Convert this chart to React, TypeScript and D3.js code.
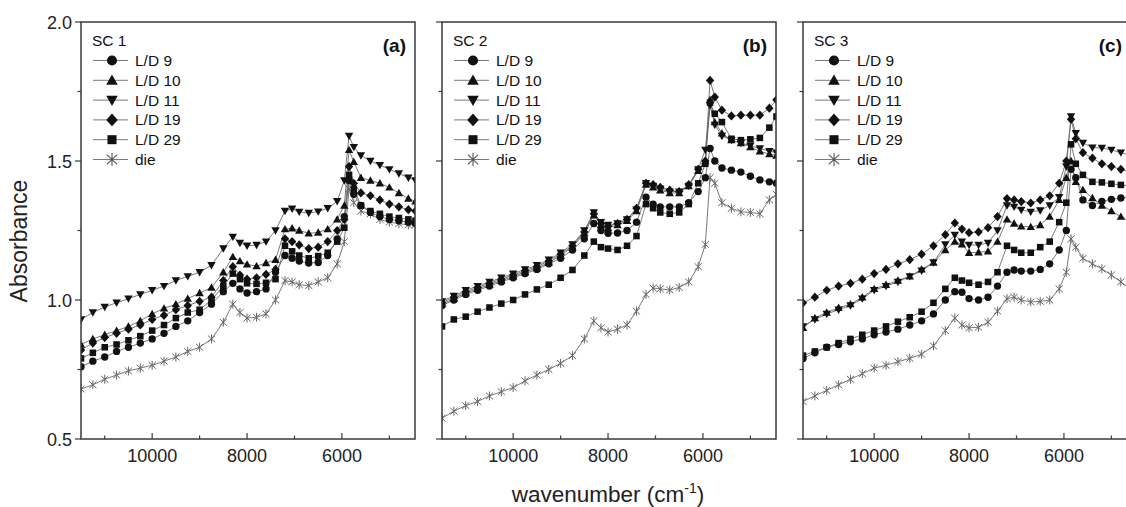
import React from "react";
import * as d3 from "d3";

// Wavenumber grid (cm^-1) shared by all spectra
const wavenumbers = [
  11500, 11250, 11000, 10750, 10500, 10250, 10000, 9750, 9500, 9250, 9000, 8750,
  8500, 8300, 8150, 8000, 7800, 7600, 7400, 7200, 7050, 6900, 6700, 6500, 6300,
  6100, 5950, 5850, 5750, 5600, 5400, 5200, 5000, 4800, 4600, 4450,
];

// SC 1
const sc1LD9 = [0.76, 0.78, 0.795, 0.815, 0.83, 0.845, 0.86, 0.88, 0.905, 0.925, 0.955, 0.985, 1.03, 1.06, 1.04, 1.025, 1.03, 1.04, 1.1, 1.16, 1.15, 1.14, 1.133, 1.135, 1.16, 1.22, 1.3, 1.43, 1.38, 1.34, 1.315, 1.3, 1.29, 1.285, 1.28, 1.275];
const sc1LD10 = [0.84, 0.86, 0.875, 0.89, 0.905, 0.925, 0.95, 0.97, 0.985, 1.005, 1.025, 1.045, 1.1, 1.155, 1.14, 1.128, 1.122, 1.133, 1.145, 1.255, 1.258, 1.25, 1.24, 1.243, 1.255, 1.29, 1.34, 1.54, 1.497, 1.44, 1.43, 1.42, 1.405, 1.385, 1.365, 1.355];
const sc1LD11 = [0.93, 0.955, 0.975, 0.99, 1.005, 1.02, 1.035, 1.05, 1.07, 1.085, 1.1, 1.125, 1.185, 1.227, 1.205, 1.195, 1.198, 1.21, 1.25, 1.32, 1.328, 1.317, 1.313, 1.318, 1.33, 1.355, 1.43, 1.59, 1.55, 1.52, 1.5, 1.485, 1.47, 1.455, 1.44, 1.43];
const sc1LD19 = [0.82, 0.845, 0.865, 0.88, 0.895, 0.91, 0.93, 0.945, 0.965, 0.98, 0.995, 1.01, 1.07, 1.12, 1.09, 1.075, 1.08, 1.092, 1.11, 1.22, 1.21, 1.198, 1.185, 1.19, 1.21, 1.25, 1.29, 1.48, 1.42, 1.385, 1.375, 1.36, 1.345, 1.335, 1.325, 1.32];
const sc1LD29 = [0.79, 0.81, 0.83, 0.84, 0.855, 0.87, 0.89, 0.91, 0.935, 0.955, 0.965, 1.0, 1.05, 1.095, 1.075, 1.06, 1.058, 1.062, 1.075, 1.195, 1.175, 1.16, 1.15, 1.158, 1.17, 1.21, 1.26, 1.45, 1.4, 1.34, 1.32, 1.31, 1.3, 1.295, 1.29, 1.285];
const sc1Die = [0.68, 0.695, 0.715, 0.73, 0.745, 0.755, 0.765, 0.78, 0.795, 0.815, 0.83, 0.86, 0.92, 0.985, 0.955, 0.935, 0.938, 0.95, 1.0, 1.07, 1.065, 1.055, 1.052, 1.065, 1.08, 1.13, 1.21, 1.4, 1.35, 1.32, 1.31, 1.29, 1.28, 1.275, 1.27, 1.27];

// SC 2
const sc2LD9 = [0.98, 1.0, 1.02, 1.035, 1.05, 1.065, 1.08, 1.095, 1.11, 1.13, 1.15, 1.18, 1.22, 1.275, 1.25, 1.24, 1.241, 1.25, 1.28, 1.37, 1.345, 1.335, 1.335, 1.335, 1.35, 1.39, 1.44, 1.545, 1.5, 1.475, 1.467, 1.46, 1.445, 1.432, 1.425, 1.42];
const sc2LD10 = [0.985, 1.005, 1.025, 1.04, 1.055, 1.07, 1.085, 1.1, 1.115, 1.135, 1.16, 1.19, 1.24, 1.305, 1.27, 1.26, 1.27, 1.285, 1.32, 1.415, 1.405, 1.395, 1.385, 1.385, 1.41, 1.465, 1.5, 1.72, 1.64, 1.6, 1.575, 1.565, 1.55, 1.535, 1.525, 1.52];
const sc2LD11 = [0.995, 1.015, 1.035, 1.05, 1.065, 1.08, 1.095, 1.11, 1.125, 1.145, 1.17, 1.2, 1.25, 1.315, 1.28, 1.27, 1.275, 1.29, 1.325, 1.42, 1.41, 1.4, 1.39, 1.39, 1.41, 1.47, 1.54, 1.7, 1.63, 1.59, 1.575, 1.565, 1.555, 1.545, 1.535, 1.53];
const sc2LD19 = [0.99, 1.01, 1.03, 1.045, 1.06, 1.075, 1.09, 1.105, 1.12, 1.14, 1.165, 1.195, 1.245, 1.31, 1.275, 1.265, 1.275, 1.29, 1.33, 1.42, 1.415, 1.405, 1.395, 1.39, 1.415, 1.47, 1.5, 1.79, 1.73, 1.683, 1.662, 1.665, 1.665, 1.665, 1.69, 1.72];
const sc2LD29 = [0.905, 0.93, 0.94, 0.958, 0.973, 0.987, 1.0, 1.02, 1.038, 1.055, 1.08, 1.108, 1.16, 1.21, 1.19, 1.185, 1.18, 1.195, 1.23, 1.345, 1.33, 1.315, 1.31, 1.315, 1.345, 1.42, 1.49, 1.71, 1.67, 1.64, 1.58, 1.575, 1.578, 1.583, 1.62, 1.66];
const sc2Die = [0.575, 0.6, 0.62, 0.635, 0.655, 0.67, 0.685, 0.709, 0.73, 0.75, 0.772, 0.8, 0.86, 0.925, 0.9, 0.885, 0.895, 0.91, 0.96, 1.02, 1.043, 1.04, 1.036, 1.045, 1.065, 1.12, 1.2, 1.44, 1.42, 1.35, 1.33, 1.317, 1.315, 1.31, 1.36, 1.38];

// SC 3
const sc3LD9 = [0.79, 0.81, 0.83, 0.84, 0.85, 0.86, 0.875, 0.885, 0.895, 0.91, 0.925, 0.95, 1.0, 1.03, 1.028, 1.005, 1.0, 1.01, 1.05, 1.1, 1.108, 1.104, 1.104, 1.11, 1.13, 1.18, 1.25, 1.47, 1.44, 1.36, 1.34, 1.355, 1.362, 1.367, 1.37, 1.37];
const sc3LD10 = [0.9, 0.935, 0.955, 0.972, 0.985, 1.01, 1.04, 1.055, 1.07, 1.085, 1.11, 1.135, 1.18, 1.21, 1.2, 1.17, 1.172, 1.175, 1.21, 1.29, 1.275, 1.265, 1.263, 1.27, 1.3, 1.36, 1.44, 1.5, 1.425, 1.396, 1.367, 1.34, 1.32, 1.3, 1.28, 1.27];
const sc3LD11 = [0.905, 0.93, 0.95, 0.965, 0.98, 1.005, 1.035, 1.05, 1.065, 1.085, 1.105, 1.135, 1.2, 1.234, 1.21, 1.198, 1.198, 1.205, 1.25, 1.34, 1.335, 1.324, 1.317, 1.322, 1.34, 1.37, 1.48, 1.66, 1.6, 1.565, 1.548, 1.547, 1.54, 1.53, 1.52, 1.51];
const sc3LD19 = [0.99, 1.01, 1.035, 1.05, 1.06, 1.075, 1.095, 1.11, 1.13, 1.145, 1.165, 1.195, 1.235, 1.277, 1.255, 1.242, 1.245, 1.26, 1.3, 1.365, 1.36, 1.354, 1.349, 1.36, 1.375, 1.42, 1.5, 1.65, 1.58, 1.53, 1.51, 1.49, 1.48, 1.47, 1.46, 1.45];
const sc3LD29 = [0.8, 0.815, 0.83, 0.845, 0.86, 0.875, 0.89, 0.905, 0.922, 0.938, 0.958, 0.99, 1.04, 1.08, 1.07, 1.062, 1.055, 1.065, 1.1, 1.195, 1.18, 1.17, 1.17, 1.19, 1.21, 1.28, 1.35, 1.56, 1.49, 1.45, 1.425, 1.423, 1.418, 1.414, 1.41, 1.41];
const sc3Die = [0.635, 0.655, 0.675, 0.695, 0.715, 0.735, 0.755, 0.765, 0.778, 0.79, 0.805, 0.835, 0.89, 0.935, 0.91, 0.9, 0.902, 0.92, 0.96, 1.005, 1.01, 1.0, 0.993, 0.995, 1.0, 1.04, 1.1, 1.22, 1.19, 1.15, 1.13, 1.112, 1.09, 1.065, 1.04, 1.02];

const seriesNames = ["L/D 9", "L/D 10", "L/D 11", "L/D 19", "L/D 29", "die"];
const panelTitles = ["SC 1", "SC 2", "SC 3"];
const panelTags = ["(a)", "(b)", "(c)"];
const panelSeries = [
  [sc1LD9, sc1LD10, sc1LD11, sc1LD19, sc1LD29, sc1Die],
  [sc2LD9, sc2LD10, sc2LD11, sc2LD19, sc2LD29, sc2Die],
  [sc3LD9, sc3LD10, sc3LD11, sc3LD19, sc3LD29, sc3Die],
];

const xMajorTicks = [10000, 8000, 6000];
const xMinorTicks = [11000, 9000, 7000, 5000];
const yMajorTicks = [0.5, 1.0, 1.5, 2.0];
const yMinorTicks = [0.75, 1.25, 1.75];

// Marker shapes; size is the square of the marker's full width
type SymbolType = { draw: (ctx: any, size: number) => void };
const circleSym: SymbolType = {
  draw(ctx, size) {
    const r = Math.sqrt(size) / 2;
    ctx.moveTo(r * 0.92, 0);
    ctx.arc(0, 0, r * 0.92, 0, 2 * Math.PI);
  },
};
const triUpSym: SymbolType = {
  draw(ctx, size) {
    const r = Math.sqrt(size) / 2;
    ctx.moveTo(0, -r * 1.05);
    ctx.lineTo(r * 1.05, r * 0.8);
    ctx.lineTo(-r * 1.05, r * 0.8);
    ctx.closePath();
  },
};
const triDownSym: SymbolType = {
  draw(ctx, size) {
    const r = Math.sqrt(size) / 2;
    ctx.moveTo(0, r * 1.05);
    ctx.lineTo(r * 1.05, -r * 0.8);
    ctx.lineTo(-r * 1.05, -r * 0.8);
    ctx.closePath();
  },
};
const diamondSym: SymbolType = {
  draw(ctx, size) {
    const r = Math.sqrt(size) / 2;
    ctx.moveTo(0, -r * 1.15);
    ctx.lineTo(r * 1.05, 0);
    ctx.lineTo(0, r * 1.15);
    ctx.lineTo(-r * 1.05, 0);
    ctx.closePath();
  },
};
const squareSym: SymbolType = {
  draw(ctx, size) {
    const r = Math.sqrt(size) / 2;
    ctx.rect(-r * 0.82, -r * 0.82, r * 1.64, r * 1.64);
  },
};
const starSym: SymbolType = {
  draw(ctx, size) {
    const r = Math.sqrt(size) / 2;
    const dx = r * 0.8;
    const dy = r * 0.75;
    ctx.moveTo(0, -r);
    ctx.lineTo(0, r);
    ctx.moveTo(-dx, -dy);
    ctx.lineTo(dx, dy);
    ctx.moveTo(-dx, dy);
    ctx.lineTo(dx, -dy);
  },
};
const symbols = [circleSym, triUpSym, triDownSym, diamondSym, squareSym, starSym];

const FONT = "'Liberation Sans', Arial, Helvetica, sans-serif";
const W = 1126;
const H = 507;
const plotTop = 22;
const plotBottom = 439;
const plotWidth = 334;
const panelLefts = [81, 442, 803];

const yScale = d3.scaleLinear().domain([0.5, 2.0]).range([plotBottom, plotTop]);

function markerPath(i: number, d: number) {
  return d3.symbol(symbols[i] as any, d * d)() || "";
}

function Panel({ idx }: { idx: number }) {
  const left = panelLefts[idx];
  const right = left + plotWidth;
  const x = d3.scaleLinear().domain([11500, 4460]).range([left, right]);
  const line = d3
    .line<number>()
    .x((_, i) => x(wavenumbers[i]))
    .y((v) => yScale(v));
  const clipId = `clip-${idx}`;
  const order = [5, 4, 3, 2, 1, 0];
  const tagX = Math.min(right - 9, W - 4);
  return (
    <g>
      <defs>
        <clipPath id={clipId}>
          <rect x={left} y={plotTop} width={plotWidth} height={plotBottom - plotTop} />
        </clipPath>
      </defs>
      <g clipPath={`url(#${clipId})`}>
        {order.map((s) => (
          <path
            key={`l${s}`}
            d={line(panelSeries[idx][s]) || ""}
            fill="none"
            stroke="#6a6a6a"
            strokeWidth={0.9}
          />
        ))}
        {order.map((s) =>
          panelSeries[idx][s].map((v, i) => (
            <path
              key={`m${s}-${i}`}
              transform={`translate(${x(wavenumbers[i])},${yScale(v)})`}
              d={markerPath(s, s === 5 ? 9 : 8)}
              fill={s === 5 ? "none" : "#111"}
              stroke={s === 5 ? "#666" : "none"}
              strokeWidth={s === 5 ? 1 : 0}
            />
          ))
        )}
      </g>
      {/* frame */}
      <rect
        x={left}
        y={plotTop}
        width={plotWidth}
        height={plotBottom - plotTop}
        fill="none"
        stroke="#3a3a3a"
        strokeWidth={1.5}
      />
      {/* x ticks, inward */}
      {xMajorTicks.map((t) => (
        <g key={`xM${t}`}>
          <line x1={x(t)} x2={x(t)} y1={plotBottom} y2={plotBottom - 6} stroke="#3a3a3a" strokeWidth={1.2} />
          <text
            x={x(t)}
            y={462}
            textAnchor="middle"
            fontFamily={FONT}
            fontSize={18}
            fill="#222"
          >
            {t}
          </text>
        </g>
      ))}
      {xMinorTicks.map((t) => (
        <line key={`xm${t}`} x1={x(t)} x2={x(t)} y1={plotBottom} y2={plotBottom - 3.5} stroke="#3a3a3a" strokeWidth={1.2} />
      ))}
      {/* y ticks, outward */}
      {yMajorTicks.map((t) => (
        <line key={`yM${t}`} x1={left} x2={left - 6} y1={yScale(t)} y2={yScale(t)} stroke="#3a3a3a" strokeWidth={1.2} />
      ))}
      {yMinorTicks.map((t) => (
        <line key={`ym${t}`} x1={left} x2={left - 3.5} y1={yScale(t)} y2={yScale(t)} stroke="#3a3a3a" strokeWidth={1.2} />
      ))}
      {idx === 0 &&
        yMajorTicks.map((t) => (
          <text
            key={`yl${t}`}
            x={left - 9}
            y={yScale(t) + 6.5}
            textAnchor="end"
            fontFamily={FONT}
            fontSize={18}
            fill="#222"
          >
            {t.toFixed(1)}
          </text>
        ))}
      {/* legend */}
      <text x={left + 11} y={46} fontFamily={FONT} fontSize={15.5} fill="#111">
        {panelTitles[idx]}
      </text>
      {seriesNames.map((name, s) => {
        const cy = 60.5 + s * 19.8;
        return (
          <g key={`lg${s}`}>
            <line x1={left + 12} x2={left + 47} y1={cy} y2={cy} stroke="#6a6a6a" strokeWidth={0.9} />
            <path
              transform={`translate(${left + 31},${cy})`}
              d={markerPath(s, s === 5 ? 13 : 11)}
              fill={s === 5 ? "none" : "#111"}
              stroke={s === 5 ? "#555" : "none"}
              strokeWidth={s === 5 ? 1.1 : 0}
            />
            <text x={left + 54} y={cy + 5.5} fontFamily={FONT} fontSize={15.5} fill="#111">
              {name}
            </text>
          </g>
        );
      })}
      <text
        x={tagX}
        y={52}
        textAnchor="end"
        fontFamily={FONT}
        fontSize={19}
        fontWeight="bold"
        fill="#111"
      >
        {panelTags[idx]}
      </text>
    </g>
  );
}

export default function App() {
  return (
    <svg
      width={W}
      height={H}
      viewBox={`0 0 ${W} ${H}`}
      style={{ position: "absolute", left: 0, top: 0, background: "#fff" }}
    >
      <rect x={0} y={0} width={W} height={H} fill="#fff" />
      {[0, 1, 2].map((i) => (
        <Panel key={i} idx={i} />
      ))}
      <text
        transform={`translate(27,241) rotate(-90)`}
        textAnchor="middle"
        fontFamily={FONT}
        fontSize={23}
        fill="#222"
      >
        Absorbance
      </text>
      <text x={608} y={502} textAnchor="middle" fontFamily={FONT} fontSize={22.5} fill="#222">
        wavenumber (cm
        <tspan fontSize={14} dy={-9}>-1</tspan>
        <tspan dy={9}>)</tspan>
      </text>
    </svg>
  );
}
